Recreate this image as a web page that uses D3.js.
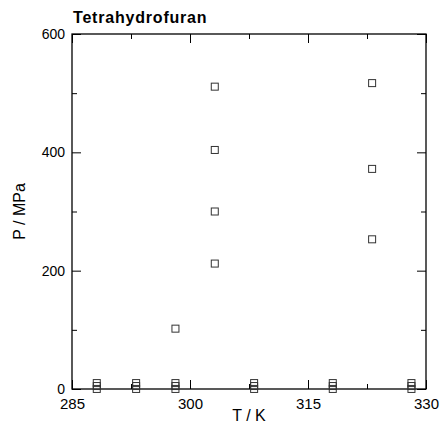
<!DOCTYPE html>
<html>
<head>
<meta charset="utf-8">
<script src="https://cdn.jsdelivr.net/npm/d3@7"></script>
<style>
  body { margin: 0; background: #fff; }
  text { font-family: "Liberation Sans", Arial, sans-serif; }
</style>
</head>
<body>
<script>
// data: temperature (K) and pressure (MPa)
let temps = [288.15, 288.15, 288.15, 293.15, 293.15, 293.15, 298.15, 298.15, 298.15, 298.15,
  303.15, 303.15, 303.15, 303.15, 308.15, 308.15, 308.15, 318.15, 318.15, 318.15,
  323.15, 323.15, 323.15, 328.15, 328.15, 328.15];
let pressures = [0.1, 5, 10, 0.1, 5, 10, 0.1, 5, 10, 102,
  212, 300, 404, 511, 0.1, 5, 10, 0.1, 5, 10,
  253, 372, 517, 0.1, 5, 10];
let xTicks = [285, 300, 315, 330];
let xMinor = [292.5, 307.5, 322.5];
let yTicks = [0, 200, 400, 600];
let yMinor = [100, 300, 500];

let margin = { top: 34, left: 72, bottom: 40, right: 14 };
let width = 440 - margin.left - margin.right;
let height = 429 - margin.top - margin.bottom;

let svg = d3.select('body').append('svg')
  .attr('width', 440).attr('height', 429);
let g = svg.append('g').attr('transform', 'translate(' + margin.left + ',' + margin.top + ')');

let x = d3.scaleLinear().domain([285, 330]).range([0, width]);
let y = d3.scaleLinear().domain([0, 600]).range([height, 0]);

// frame
g.append('rect').attr('width', width).attr('height', height)
  .attr('fill', 'none').attr('stroke', '#000').attr('stroke-width', 1.3);

// inward ticks, all four sides
function ticks(axis, vals, len, labels) {
  let a = axis.tickValues(vals).tickSize(-len).tickSizeOuter(0);
  if (!labels) a.tickFormat('');
  return a;
}
let tickStyle = function(sel) {
  sel.select('.domain').remove();
  sel.selectAll('line').attr('stroke', '#000');
  sel.selectAll('text').attr('font-size', 15).attr('fill', '#000');
};
g.append('g').attr('transform', 'translate(0,' + height + ')')
  .call(ticks(d3.axisBottom(x), xTicks, 9, true).tickPadding(9)).call(tickStyle);
g.append('g').attr('transform', 'translate(0,' + height + ')')
  .call(ticks(d3.axisBottom(x), xMinor, 5)).call(tickStyle);
g.append('g').call(ticks(d3.axisTop(x), xTicks, 9)).call(tickStyle);
g.append('g').call(ticks(d3.axisTop(x), xMinor, 5)).call(tickStyle);
g.append('g').call(ticks(d3.axisLeft(y), yTicks, 9, true).tickPadding(7)).call(tickStyle)
  .selectAll('text').attr('font-size', 14);
g.append('g').call(ticks(d3.axisLeft(y), yMinor, 5)).call(tickStyle);
g.append('g').attr('transform', 'translate(' + width + ',0)')
  .call(ticks(d3.axisRight(y), yTicks, 9)).call(tickStyle);
g.append('g').attr('transform', 'translate(' + width + ',0)')
  .call(ticks(d3.axisRight(y), yMinor, 5)).call(tickStyle);

// points
let s = 7;
g.selectAll('rect.pt').data(temps).enter().append('rect')
  .attr('class', 'pt')
  .attr('x', function(d) { return x(d) - s / 2; })
  .attr('y', function(d, i) { return y(pressures[i]) - s / 2; })
  .attr('width', s).attr('height', s)
  .attr('fill', 'none').attr('stroke', '#333').attr('stroke-width', 1);

// titles
svg.append('text').attr('x', 73).attr('y', 23)
  .attr('font-size', 16).attr('font-weight', 'bold').attr('letter-spacing', 0.8)
  .text('Tetrahydrofuran');
svg.append('text').attr('x', margin.left + width / 2).attr('y', 421)
  .attr('text-anchor', 'middle').attr('font-size', 16).text('T / K');
svg.append('text').attr('transform', 'translate(25,' + (margin.top + height / 2) + ') rotate(-90)')
  .attr('text-anchor', 'middle').attr('font-size', 16).text('P / MPa');
</script>
</body>
</html>
